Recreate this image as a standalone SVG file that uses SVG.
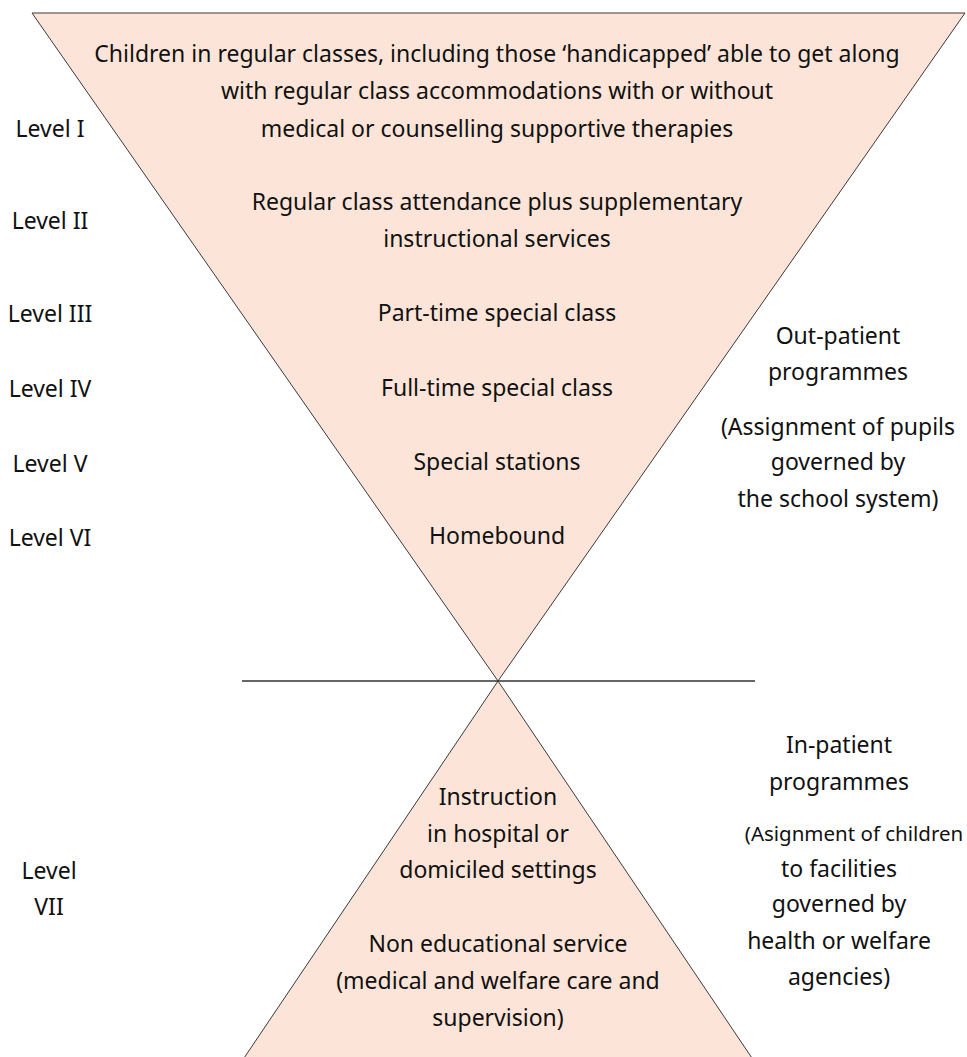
<svg xmlns="http://www.w3.org/2000/svg" width="967" height="1057" viewBox="0 0 967 1057">
<style>
.shape{fill:#FCE5D8;stroke:#3a3a3a;stroke-width:1}
.t{font-family:"Noto Sans","Open Sans","DejaVu Sans",sans-serif;font-size:23px;fill:#111;text-anchor:middle}
.conn{stroke:#333;stroke-width:1.3;fill:none}
</style>
<rect width="967" height="1057" fill="#fff"/>
<g id="upper-triangle">
<polygon class="shape" points="32,13 965,13 498,681"/>
</g>
<g id="lower-triangle">
<polygon class="shape" points="498,681 240,1064 756,1064"/>
</g>
<g id="connectors">
<line class="conn" x1="242" y1="681" x2="755" y2="681"/>
</g>
<g id="level1">
<text class="t" x="497" y="62">Children in regular classes, including those ‘handicapped’ able to get along</text>
<text class="t" x="497" y="99">with regular class accommodations with or without</text>
<text class="t" x="497" y="137">medical or counselling supportive therapies</text>
<text class="t" x="50" y="137">Level I</text>
</g>
<g id="level2">
<text class="t" x="497" y="210">Regular class attendance plus supplementary</text>
<text class="t" x="497" y="247">instructional services</text>
<text class="t" x="50" y="229">Level II</text>
</g>
<g id="level3">
<text class="t" x="497" y="321">Part-time special class</text>
<text class="t" x="50" y="322">Level III</text>
</g>
<g id="level4">
<text class="t" x="497" y="396">Full-time special class</text>
<text class="t" x="50" y="397">Level IV</text>
</g>
<g id="level5">
<text class="t" x="497" y="470">Special stations</text>
<text class="t" x="50" y="472">Level V</text>
</g>
<g id="level6">
<text class="t" x="497" y="544">Homebound</text>
<text class="t" x="50" y="546">Level VI</text>
</g>
<g id="out-patient">
<text class="t" x="838" y="344">Out-patient</text>
<text class="t" x="838" y="380">programmes</text>
<text class="t" x="838" y="435">(Assignment of pupils</text>
<text class="t" x="838" y="470">governed by</text>
<text class="t" x="838" y="507">the school system)</text>
</g>
<g id="level7">
<text class="t" x="498" y="805">Instruction</text>
<text class="t" x="498" y="842">in hospital or</text>
<text class="t" x="498" y="878">domiciled settings</text>
<text class="t" x="498" y="952">Non educational service</text>
<text class="t" x="498" y="989">(medical and welfare care and</text>
<text class="t" x="498" y="1026">supervision)</text>
<text class="t" x="49" y="879">Level</text>
<text class="t" x="49" y="915">VII</text>
</g>
<g id="in-patient">
<text class="t" x="839" y="753">In-patient</text>
<text class="t" x="839" y="790">programmes</text>
<text class="t" x="854" y="841" style="font-size:20.5px">(Asignment of children</text>
<text class="t" x="839" y="877">to facilities</text>
<text class="t" x="839" y="912">governed by</text>
<text class="t" x="839" y="949">health or welfare</text>
<text class="t" x="839" y="985">agencies)</text>
</g>
</svg>
